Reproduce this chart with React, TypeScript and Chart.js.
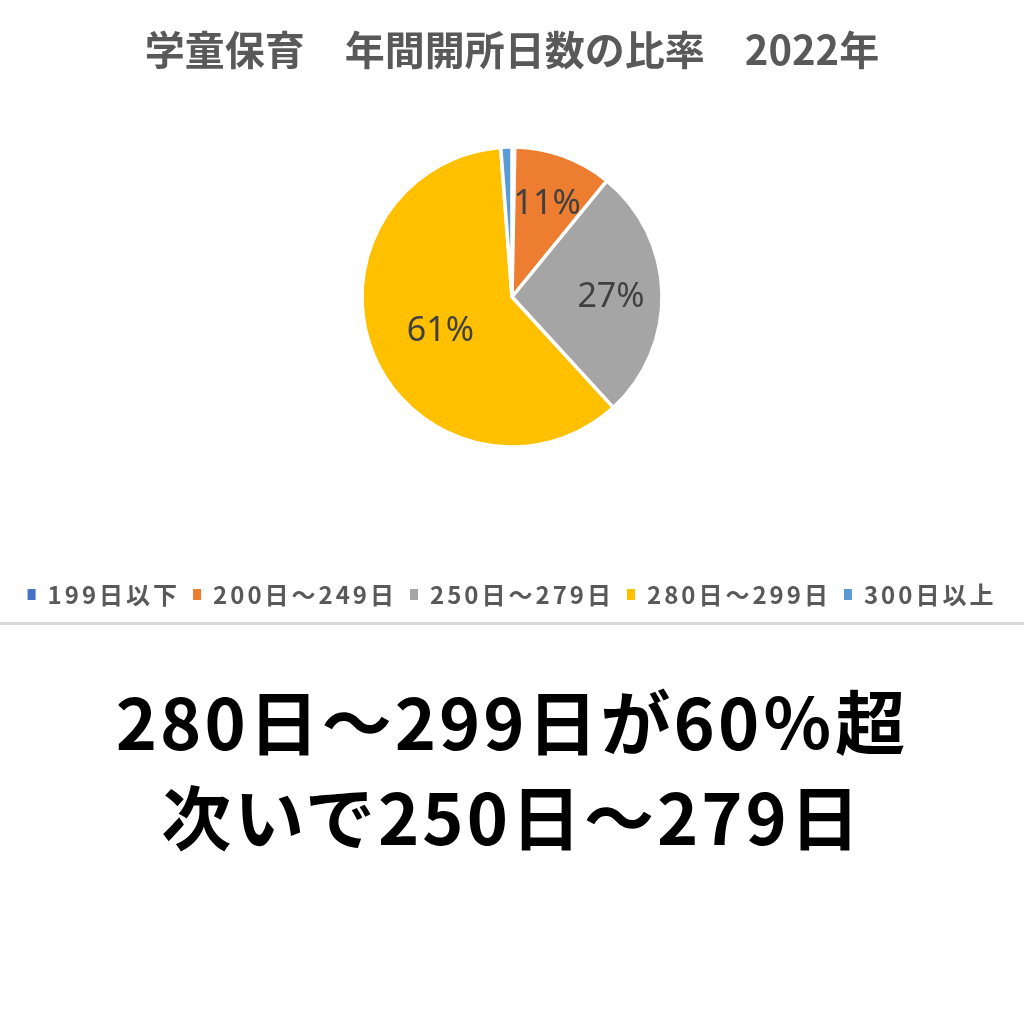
import { useEffect, useRef } from 'react';
import { Chart, registerables } from 'chart.js';

Chart.register(...registerables);

// 区分と比率（%）
const categories = ['199日以下', '200日～249日', '250日～279日', '280日～299日', '300日以上'];
const shares = [0.3, 10.6, 27.3, 60.6, 1.2];
const sliceColors = ['#4472C4', '#ED7D31', '#A5A5A5', '#FFC000', '#5B9BD5'];
// ラベルの中心からの距離（半径に対する割合）
const labelRadius = [0, 0.68, 0.66, 0.52, 0];

const titleText = '学童保育　年間開所日数の比率　2022年';
const captionLines = ['280日～299日が60％超', '次いで250日～279日'];

const CJK = '"Noto Sans CJK JP", "Noto Sans", sans-serif';

// 凡例だけ字間を広げる
const legendSpacing = {
  id: 'legendSpacing',
  afterInit(chart: any) {
    const lg = chart.legend;
    if (!lg) return;
    const wrap = (fn: any) =>
      function (this: any, ...args: any[]) {
        const c = this.ctx;
        const prev = c.letterSpacing;
        c.letterSpacing = '3px';
        const r = fn.apply(this, args);
        c.letterSpacing = prev;
        return r;
      };
    lg.fit = wrap(lg.fit);
    lg.draw = wrap(lg.draw);
  },
};

const sliceLabels = {
  id: 'sliceLabels',
  afterDatasetsDraw(chart: any) {
    const ctx = chart.ctx;
    const meta = chart.getDatasetMeta(0);
    const total = shares.reduce((a, b) => a + b, 0);
    meta.data.forEach((arc: any, i: number) => {
      const pct = (shares[i] / total) * 100;
      if (pct < 5) return;
      const { x, y, startAngle, endAngle, outerRadius } = arc.getProps(
        ['x', 'y', 'startAngle', 'endAngle', 'outerRadius'],
        true
      );
      const mid = (startAngle + endAngle) / 2;
      const r = outerRadius * labelRadius[i];
      ctx.save();
      ctx.letterSpacing = '0px';
      ctx.font = '34px "Noto Sans", sans-serif';
      ctx.fillStyle = '#404040';
      ctx.textAlign = 'center';
      ctx.textBaseline = 'middle';
      ctx.fillText(Math.round(pct) + '%', x + Math.cos(mid) * r, y + Math.sin(mid) * r + 3);
      ctx.restore();
    });
  },
};

function PieChart() {
  const canvasRef = useRef<HTMLCanvasElement>(null);

  useEffect(() => {
    if (!canvasRef.current) return;
    const chart = new Chart(canvasRef.current, {
      type: 'pie',
      data: {
        labels: categories,
        datasets: [
          {
            data: shares,
            backgroundColor: sliceColors,
            borderColor: '#ffffff',
            borderWidth: 3.5,
            radius: 150,
          },
        ],
      },
      options: {
        responsive: true,
        maintainAspectRatio: false,
        animation: false,
        layout: { padding: { bottom: 5.5 } },
        plugins: {
          title: {
            display: true,
            text: titleText,
            color: '#595959',
            font: { family: CJK, size: 40, weight: 'bold' },
            padding: { top: 25.5, bottom: -49 },
          },
          legend: {
            position: 'bottom',
            labels: {
              boxWidth: 8,
              boxHeight: 11,
              padding: 13,
              color: '#595959',
              font: { family: CJK, size: 24, weight: 'bold' },
              generateLabels: (c: any) =>
                (Chart as any).overrides.pie.plugins.legend.labels
                  .generateLabels(c)
                  .map((it: any) => ({ ...it, lineWidth: 0 })),
            },
          },
          tooltip: { enabled: false },
        },
        events: [],
      },
      plugins: [legendSpacing, sliceLabels],
    });
    return () => chart.destroy();
  }, []);

  return (
    <div style={{ position: 'relative', width: 1024, height: 622 }}>
      <canvas ref={canvasRef}></canvas>
    </div>
  );
}

export default function App() {
  useEffect(() => {
    document.body.style.margin = '0';
    document.body.style.background = '#ffffff';
  }, []);

  return (
    <div style={{ width: 1024, height: 1024, background: '#ffffff', overflow: 'hidden' }}>
      <PieChart />
      <div style={{ height: 3, background: '#d9d9d9', width: 1024 }} />
      <div
        style={{
          marginTop: 47,
          textAlign: 'center',
          fontFamily: CJK,
          fontWeight: 'bold',
          fontSize: 70,
          lineHeight: '95px',
          letterSpacing: 3,
          color: '#000000',
        }}
      >
        {captionLines.map((t) => (
          <div key={t}>{t}</div>
        ))}
      </div>
    </div>
  );
}
